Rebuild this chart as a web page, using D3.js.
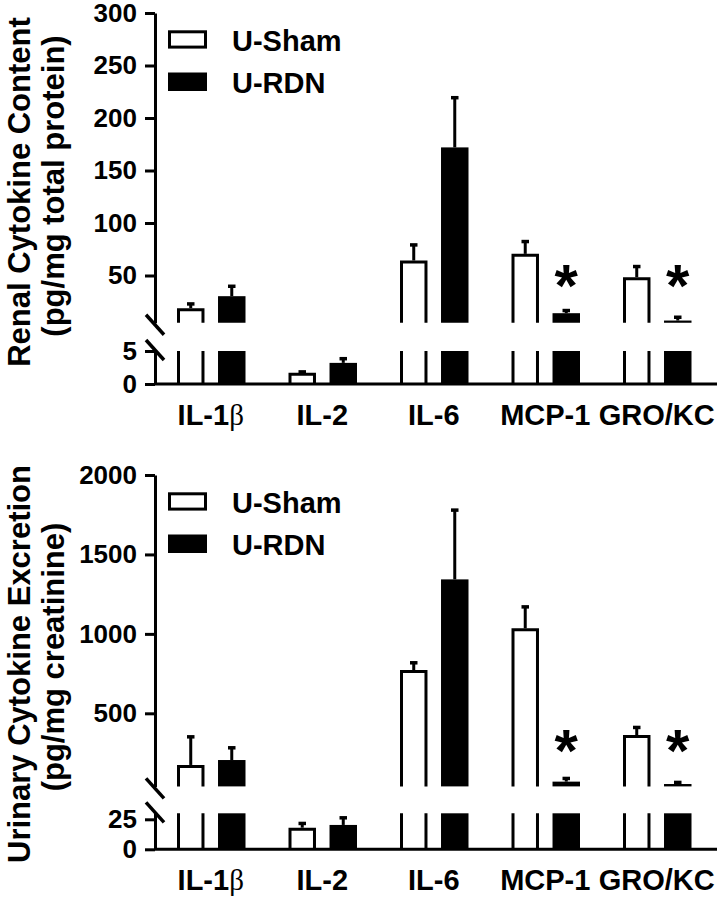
<!DOCTYPE html>
<html><head><meta charset="utf-8">
<script src="https://cdn.jsdelivr.net/npm/d3@7"></script>
<style>
body{margin:0;background:#fff}
text{font-family:"Liberation Sans",Arial,Helvetica,sans-serif;font-weight:bold;fill:#000}
</style>
</head><body>
<svg id="chart" width="719" height="900"></svg>
<script>
// ---------- data ----------
const cytokines = ["IL-1β", "IL-2", "IL-6", "MCP-1", "GRO/KC"];
const seriesNames = ["U-Sham", "U-RDN"];

// Renal cytokine content (pg/mg total protein)
const renalSham    = [18.9, 1.7, 64.3, 70.6, 48.4];
const renalShamSem = [5.7, 0.4, 16.5, 13.4, 11.8];
const renalRdn     = [30.3, 3.2, 172, 14.1, 7.1];
const renalRdnSem  = [11.1, 0.9, 49, 4.2, 4.8];
const renalSig     = [false, false, false, true, true];
const renalTicksUpper = [50, 100, 150, 200, 250, 300];
const renalTicksLower = [0, 5];
const renalBreak   = [5, 300];   // upper segment domain
const renalLower   = [0, 5];     // lower segment domain
const renalStarAt  = 55;

// Urinary cytokine excretion (pg/mg creatinine)
const urineSham    = [175, 18, 772, 1035, 363];
const urineShamSem = [188, 5, 57, 146, 59];
const urineRdn     = [206, 20.3, 1343, 70, 55];
const urineRdnSem  = [88, 7.4, 447, 31, 21];
const urineSig     = [false, false, false, true, true];
const urineTicksUpper = [500, 1000, 1500, 2000];
const urineTicksLower = [0, 25];
const urineBreak   = [40, 2000];
const urineLower   = [0, 30];
const urineStarAt  = 365;

// ---------- drawing ----------
const svg = d3.select("#chart");
const AX = 155;

const x0 = d3.scaleBand().domain(cytokines).range([AX, 712.5]).paddingInner(0).paddingOuter(0);
const x1 = d3.scaleBand().domain(seriesNames).range([22, 90.5]).paddingInner(0.33);

function drawPanel(p) {
  const g = svg.append("g");
  const yU = d3.scaleLinear().domain(p.upperDomain).range(p.upperRange);
  const yL = d3.scaleLinear().domain(p.lowerDomain).range(p.lowerRange);
  const segs = [{y: yU, d: p.upperDomain}, {y: yL, d: p.lowerDomain}];

  const series = [
    {name: seriesNames[0], vals: p.sham, sem: p.shamSem, filled: false},
    {name: seriesNames[1], vals: p.rdn, sem: p.rdnSem, filled: true}
  ];

  series.forEach(s => {
    cytokines.forEach((c, i) => {
      const v = s.vals[i], e = s.sem[i];
      const xl = x0(c) + x1(s.name), w = x1.bandwidth(), xc = xl + w / 2;
      segs.forEach(seg => {
        const [d0, d1] = seg.d, y = seg.y;
        if (v <= d0) return;
        const top = Math.min(v, d1);
        const hasTop = v <= d1;
        if (s.filled) {
          g.append("rect").attr("x", xl).attr("y", y(top)).attr("width", w)
            .attr("height", y(d0) - y(top)).attr("fill", "#000");
        } else {
          g.append("rect").attr("x", xl).attr("y", y(top)).attr("width", w)
            .attr("height", y(d0) - y(top)).attr("fill", "#fff");
          const l = xl + 1.5, r = xl + w - 1.5;
          const path = hasTop
            ? `M${l},${y(d0)}V${y(top) + 1.5}H${r}V${y(d0)}`
            : `M${l},${y(d0)}V${y(top)}M${r},${y(top)}V${y(d0)}`;
          g.append("path").attr("d", path).attr("fill", "none")
            .attr("stroke", "#000").attr("stroke-width", 3);
        }
        if (hasTop) {
          const ye = y(v + e);
          g.append("line").attr("x1", xc).attr("x2", xc).attr("y1", y(v))
            .attr("y2", ye + 1.75).attr("stroke", "#000").attr("stroke-width", 3);
          g.append("line").attr("x1", xc - 3.75).attr("x2", xc + 3.75)
            .attr("y1", ye + 1.75).attr("y2", ye + 1.75)
            .attr("stroke", "#000").attr("stroke-width", 3.5);
        }
      });
      if (s.filled && p.sig[i]) {
        g.append("text").attr("x", xc).attr("y", yU(p.starAt)).attr("dy", "0.6em")
          .attr("text-anchor", "middle").style("font-size", "60px").text("*");
      }
    });
  });

  // y axes (broken)
  [[yU, p.ticksUpper], [yL, p.ticksLower]].forEach(([y, tv]) => {
    const a = g.append("g").attr("transform", `translate(${AX},0)`)
      .call(d3.axisLeft(y).tickValues(tv).tickFormat(d3.format("d"))
        .tickSize(10).tickPadding(8).tickSizeOuter(0));
    a.select(".domain").attr("stroke-width", 3);
    a.selectAll(".tick line").attr("stroke-width", 3);
    a.selectAll(".tick text").style("font-size", "26px").attr("fill", "#000");
  });

  // break marks
  [yU(p.upperDomain[0]) + 2, yL(p.lowerDomain[1]) - 1].forEach(cy => {
    g.append("line").attr("x1", AX - 9).attr("x2", AX + 9)
      .attr("y1", cy - 10).attr("y2", cy + 10)
      .attr("stroke", "#000").attr("stroke-width", 3.5);
  });

  // x axis
  const base = yL(0);
  const xa = g.append("g").attr("transform", `translate(0,${base})`)
    .call(d3.axisBottom(x0).tickSize(0).tickPadding(0).tickSizeOuter(0));
  xa.select(".domain").attr("d", `M${AX},0H717`).attr("stroke-width", 3);
  xa.selectAll(".tick text").attr("y", 41).attr("dy", null)
    .style("font-size", "29px").attr("fill", "#000")
    .each(function(d) {
      if (d.endsWith("β")) {
        const t = d3.select(this).text(null);
        t.append("tspan").text(d.slice(0, -1));
        t.append("tspan").style("font-family", "'Liberation Serif','DejaVu Serif',serif")
          .style("font-weight", "normal").text("β");
      }
    });

  // legend
  const top = yU(p.upperDomain[1]);
  const lg = g.append("g");
  lg.append("rect").attr("x", 169.5).attr("y", top + 17.3 + 1.5).attr("width", 36)
    .attr("height", 15.3).attr("fill", "#fff").attr("stroke", "#000").attr("stroke-width", 3);
  lg.append("rect").attr("x", 168).attr("y", top + 59.5).attr("width", 39)
    .attr("height", 18.5).attr("fill", "#000");
  lg.append("text").attr("x", 232).attr("y", top + 37.5).style("font-size", "29px").text(seriesNames[0]);
  lg.append("text").attr("x", 232).attr("y", top + 79.5).style("font-size", "29px").text(seriesNames[1]);

  // y label
  p.label.forEach((ln, k) => {
    g.append("text").attr("transform", `translate(${k === 0 ? 30 : 64},${p.labelY[k]}) rotate(-90)`)
      .attr("text-anchor", "middle").style("font-size", "31px").text(ln);
  });
}

drawPanel({
  sham: renalSham, shamSem: renalShamSem, rdn: renalRdn, rdnSem: renalRdnSem, sig: renalSig,
  ticksUpper: renalTicksUpper, ticksLower: renalTicksLower,
  upperDomain: renalBreak, upperRange: [322.75, 13],
  lowerDomain: renalLower, lowerRange: [384, 351],
  starAt: renalStarAt,
  label: ["Renal Cytokine Content", "(pg/mg total protein)"], labelY: [192, 186]
});

drawPanel({
  sham: urineSham, shamSem: urineShamSem, rdn: urineRdn, rdnSem: urineRdnSem, sig: urineSig,
  ticksUpper: urineTicksUpper, ticksLower: urineTicksLower,
  upperDomain: urineBreak, upperRange: [786.4, 475],
  lowerDomain: urineLower, lowerRange: [849.3, 813.3],
  starAt: urineStarAt,
  label: ["Urinary Cytokine Excretion", "(pg/mg creatinine)"], labelY: [664, 657]
});
</script>
</body></html>
